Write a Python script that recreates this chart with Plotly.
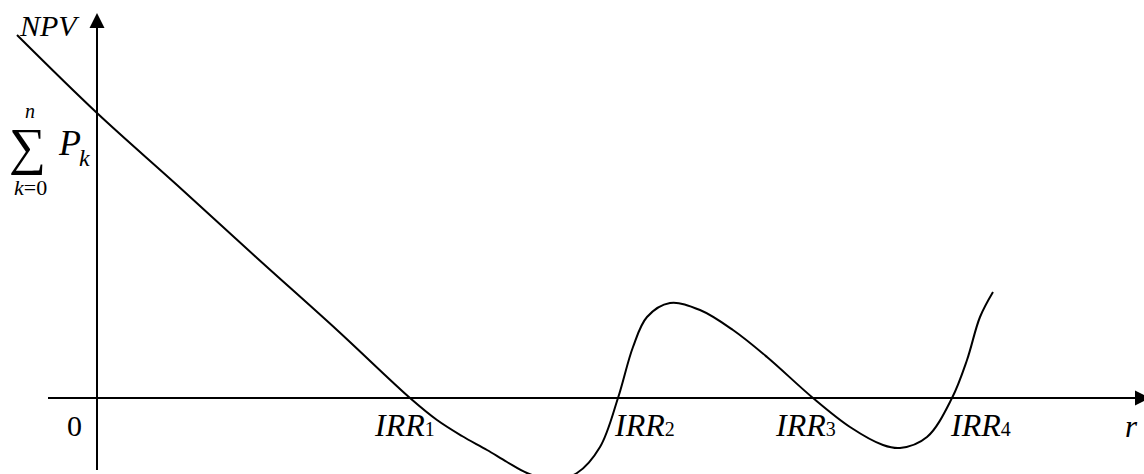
import plotly.graph_objects as go

# ---- data (r in arbitrary units, NPV in arbitrary units) ----
r_values = [-0.80, 0.00, 0.80, 1.60, 2.40, 3.13, 3.40, 3.65, 3.90, 4.10, 4.30, 4.55,
            4.80, 5.03, 5.21, 5.36, 5.50, 5.73, 6.03, 6.36, 6.70, 7.16, 7.53, 7.86,
            8.03, 8.30, 8.55, 8.70, 8.83, 8.96]
npv_values = [3.63, 2.85, 2.13, 1.40, 0.68, 0.00, -0.22, -0.38, -0.52, -0.64, -0.75, -0.82,
              -0.75, -0.49, 0.00, 0.51, 0.81, 0.95, 0.88, 0.68, 0.41, 0.00, -0.29, -0.47,
              -0.50, -0.39, 0.00, 0.38, 0.81, 1.06]
irr_names = ["IRR", "IRR", "IRR", "IRR"]
irr_subs = ["1", "2", "3", "4"]
irr_label_x = [2.75, 5.15, 6.76, 8.51]

X_RANGE = [-0.97, 10.47]
Y_RANGE = [-0.76, 3.98]
SERIF = "Liberation Serif, Times New Roman, serif"

fig = go.Figure()

# axes lines
fig.add_trace(go.Scatter(x=[-0.49, 10.40], y=[0, 0], mode="lines",
                         line=dict(color="black", width=2), hoverinfo="skip"))
fig.add_trace(go.Scatter(x=[0, 0], y=[-0.72, 3.72], mode="lines",
                         line=dict(color="black", width=2), hoverinfo="skip"))
# arrowheads (tip at the given point)
fig.add_trace(go.Scatter(x=[10.53], y=[0], mode="markers",
                         marker=dict(symbol="arrow-right", size=15, color="black",
                                     line=dict(width=0)),
                         hoverinfo="skip"))
fig.add_trace(go.Scatter(x=[0.0], y=[3.85], mode="markers",
                         marker=dict(symbol="arrow-up", size=15, color="black",
                                     line=dict(width=0)),
                         hoverinfo="skip"))

# NPV curve
fig.add_trace(go.Scatter(x=r_values, y=npv_values, mode="lines",
                         line=dict(color="black", width=2, shape="spline", smoothing=1.0),
                         hoverinfo="skip"))

ann = []
def t(text, x, y, size, xa="left", ya="middle", yshift=0):
    ann.append(dict(text=text, x=x, y=y, xref="x", yref="y", showarrow=False,
                    xanchor=xa, yanchor=ya, yshift=yshift,
                    font=dict(family=SERIF, size=size, color="black")))

for name, sub, lx in zip(irr_names, irr_subs, irr_label_x):
    t("<i>%s</i><span style='font-size:20px'>%s</span>" % (name, sub), lx, -0.27, 32)

t("0", -0.13, -0.27, 30, xa="right")
t("<i>r</i>", 10.34, -0.28, 31, xa="center")
t("<i>NPV</i>", -0.48, 3.73, 30, xa="center")
# sum formula
t("\u2211", -0.70, 2.51, 52, xa="center")
t("<i>n</i>", -0.67, 2.87, 20, xa="center")
t("<i>P</i>", -0.28, 2.55, 36, xa="center")
t("<i>k</i>", -0.13, 2.40, 24, xa="center")
t("<i>k</i>=0", -0.67, 2.11, 22, xa="center")

fig.update_layout(
    width=1144, height=474,
    margin=dict(l=0, r=0, t=0, b=0),
    paper_bgcolor="white", plot_bgcolor="white",
    showlegend=False,
    hovermode=False,
    xaxis=dict(range=X_RANGE, visible=False, fixedrange=True),
    yaxis=dict(range=Y_RANGE, visible=False, fixedrange=True),
    annotations=ann,
)

fig.write_html("out.html",
               config={"displayModeBar": False, "staticPlot": True},
               post_script="document.body.style.margin='0';document.body.style.overflow='hidden';")
